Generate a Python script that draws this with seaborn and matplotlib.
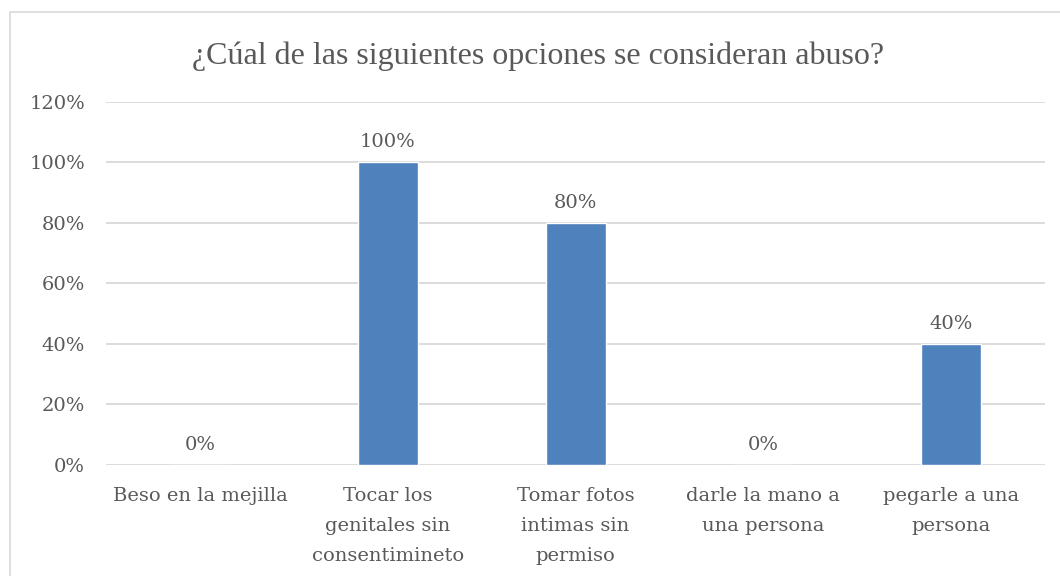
import matplotlib
matplotlib.use("Agg")
import matplotlib.pyplot as plt
from matplotlib.patches import Rectangle
from matplotlib.ticker import FuncFormatter
import seaborn as sns
import pandas as pd

categorias = ["Beso en la mejilla",
              "Tocar los\ngenitales sin\nconsentimineto",
              "Tomar fotos\nintimas sin\npermiso",
              "darle la mano a\nuna persona",
              "pegarle a una\npersona"]
porcentajes = [0, 100, 80, 0, 40]
titulo = "¿Cúal de las siguientes opciones se consideran abuso?"

sns.set_style("white")
plt.rcParams["font.family"] = ["DejaVu Serif"]

texto = "#595959"
df = pd.DataFrame({"categoria": categorias, "valor": porcentajes})

fig = plt.figure(figsize=(10.6, 5.76), dpi=100)
ax = fig.add_axes([0.100, 0.193, 0.886, 0.630])

sns.barplot(data=df, x="categoria", y="valor", color="#4f81bd",
            width=0.32, saturation=1, ax=ax, zorder=3)

ax.set_ylim(0, 120)
ax.set_yticks(range(0, 121, 20))
ax.yaxis.set_major_formatter(FuncFormatter(lambda v, p: f"{v:.0f}%"))
ax.grid(axis="y", color="#d9d9d9", linewidth=1.3, zorder=0)
ax.set_axisbelow(True)
for s in ax.spines.values():
    s.set_visible(False)
ax.tick_params(axis="both", length=0, labelsize=14, labelcolor=texto)
ax.tick_params(axis="y", pad=15)
ax.tick_params(axis="x", pad=16)
for lbl in ax.get_xticklabels():
    lbl.set_linespacing(1.85)
ax.set_xlabel("")
ax.set_ylabel("")
ax.set_xlim(-0.5, len(categorias) - 0.5)

for i, v in enumerate(porcentajes):
    ax.annotate(f"{v}%", (i, v), xytext=(0, 8), textcoords="offset points",
                ha="center", va="bottom", fontsize=14, color=texto)

fig.text(0.508, 0.903, titulo, ha="center", va="center", fontsize=23,
         color=texto, family=["Liberation Serif"])

fig.add_artist(Rectangle((10 / 1060, -0.1), 1.2, 1.1 - 12 / 576,
                         transform=fig.transFigure, fill=False,
                         edgecolor="#d9d9d9", linewidth=1.2))

fig.savefig("out.png", dpi=100, facecolor="white")
